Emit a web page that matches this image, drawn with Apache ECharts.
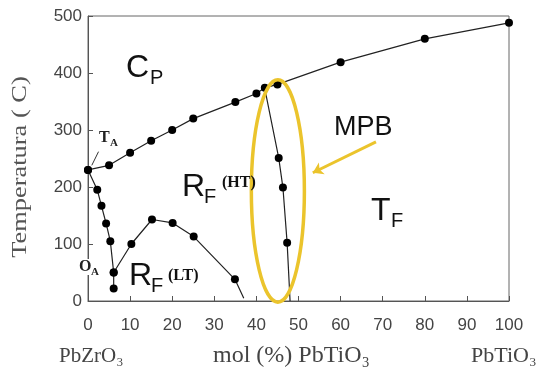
<!DOCTYPE html>
<html>
<head>
<meta charset="utf-8">
<script src="https://cdn.jsdelivr.net/npm/echarts@6/dist/echarts.min.js"></script>
<style>
html,body{margin:0;padding:0;background:#fff;}
#c{width:542px;height:373px;}
</style>
</head>
<body>
<div id="c"></div>
<script>
// ---- data (mol % PbTiO3, temperature °C) ----
var xTicks = [0, 10, 20, 30, 40, 50, 60, 70, 80, 90, 100];
var yTicks = [0, 100, 200, 300, 400, 500];
// cubic paraelectric boundary (Tc line)
var tcX = [0, 5, 10, 15, 20, 25, 35, 40, 42, 45, 60, 80, 100];
var tcT = [230, 238, 260, 281, 300, 320, 349, 364, 374, 380, 419, 460, 488];
// antiferroelectric (A_T) boundary, left steep line
var afX = [0, 2.2, 3.2, 4.3, 5.3, 6.1, 6.1];
var afT = [230, 195, 167, 136, 105, 50, 22];
// R_F(LT) / R_F(HT) boundary
var ltX = [6.1, 10.3, 15.2, 20.1, 25.1, 34.9, 37];
var ltT = [50, 100, 143, 137, 113, 38, 5];
var ltMarker = [1, 1, 1, 1, 1, 1, 0];
// morphotropic phase boundary
var mpbX = [42, 45.3, 46.3, 47.3, 48];
var mpbT = [372, 251, 199, 102, 0];
var mpbMarker = [0, 1, 1, 1, 0];
// T_A leader line
var taLeadX = [0.9, 2.5];
var taLeadT = [238, 262];
// MPB highlight ellipse (centre / half-extent in data units)
var ellCenter = [45.1, 193];
var ellHalf = [6.3, 195];
// MPB arrow (from, to) in data units
var arrowFrom = [68.4, 279];
var arrowTo = [53.4, 225];

function pairs(xs, ts, marks) {
  return xs.map(function (x, i) {
    var d = { value: [x, ts[i]] };
    if (marks && !marks[i]) d.symbol = 'none';
    return d;
  });
}

var chart = echarts.init(document.getElementById('c'), null, { renderer: 'canvas' });
var serif = "'Liberation Serif','DejaVu Serif',serif";
var sans = "'Liberation Sans',Arial,sans-serif";
var yellow = '#EBC42C';
var lineCol = '#222';

var lineSeries = function (data) {
  return {
    type: 'line', data: data, symbol: 'circle', symbolSize: 8,
    itemStyle: { color: '#000' },
    lineStyle: { color: lineCol, width: 1.2 },
    animation: false, silent: true, z: 3
  };
};

function txt(x, y, text, font, fill, extra) {
  var st = { text: text, font: font, fill: fill || '#111', verticalAlign: 'middle' };
  if (extra) for (var k in extra) st[k] = extra[k];
  return { type: 'text', x: x, y: y, z: 100, style: st };
}

var option = {
  animation: false,
  backgroundColor: '#fff',
  grid: { left: 88, right: 33, top: 16, bottom: 72, show: true, borderColor: '#666', borderWidth: 1 },
  xAxis: {
    type: 'value', min: 0, max: 100, interval: 10,
    axisLine: { lineStyle: { color: '#555' } },
    axisTick: { inside: true, length: 5, lineStyle: { color: '#555' } },
    splitLine: { show: false },
    axisLabel: { color: '#444', fontFamily: sans, fontSize: 17, margin: 16,
      formatter: function (v) { return xTicks.indexOf(v) >= 0 ? String(v) : ''; } }
  },
  yAxis: {
    type: 'value', min: 0, max: 500, interval: 100,
    axisLine: { show: true, lineStyle: { color: '#555' } },
    axisTick: { show: true, inside: true, length: 5, lineStyle: { color: '#555' } },
    splitLine: { show: false },
    axisLabel: { color: '#444', fontFamily: sans, fontSize: 17, margin: 6,
      formatter: function (v) { return yTicks.indexOf(v) >= 0 ? String(v) : ''; } }
  },
  series: [
    lineSeries(pairs(tcX, tcT)),
    lineSeries(pairs(afX, afT)),
    lineSeries(pairs(ltX, ltT, ltMarker)),
    lineSeries(pairs(mpbX, mpbT, mpbMarker)),
    {
      type: 'line', data: pairs(taLeadX, taLeadT), symbol: 'none',
      lineStyle: { color: '#333', width: 1 }, silent: true
    },
    {
      type: 'custom', silent: true, z: 5,
      data: [[ellCenter[0], ellCenter[1]]],
      renderItem: function (params, api) {
        var c = api.coord([api.value(0), api.value(1)]);
        var s = api.size(ellHalf);
        return {
          type: 'ellipse',
          shape: { cx: c[0], cy: c[1], rx: s[0], ry: s[1] },
          style: { fill: 'none', stroke: yellow, lineWidth: 3.5 }
        };
      }
    },
    {
      type: 'lines', coordinateSystem: 'cartesian2d', silent: true, z: 5,
      symbol: ['none', 'arrow'], symbolSize: 10,
      lineStyle: { color: yellow, width: 3, opacity: 1, curveness: 0 },
      data: [{ coords: [arrowFrom, arrowTo] }]
    }
  ],
  graphic: [
    { type: 'text', x: 20, y: 167, rotation: Math.PI / 2, scaleX: 1.2, z: 100,
      style: { text: 'Temperatura ( C)', font: '22px ' + serif, fill: '#555', align: 'center', verticalAlign: 'middle' } },

    txt(126, 68, 'C', '32px ' + sans),
    txt(150, 78, 'P', '20px ' + sans),

    txt(182, 187, 'R', '32px ' + sans),
    txt(204, 197, 'F', '20px ' + sans),
    txt(222, 183, '(HT)', 'bold 16px ' + serif),

    txt(371, 211, 'T', '32px ' + sans),
    txt(391, 221, 'F', '20px ' + sans),

    txt(334, 128, 'MPB', '27px ' + sans),

    txt(129, 276, 'R', '32px ' + sans),
    txt(151, 286, 'F', '20px ' + sans),
    txt(168, 276, '(LT)', 'bold 16px ' + serif),

    txt(79, 267, 'O', 'bold 16px ' + serif, '#222', { backgroundColor: '#fff' }),
    txt(91, 272, 'A', 'bold 11px ' + serif, '#222', { backgroundColor: '#fff' }),

    txt(99, 138, 'T', 'bold 16px ' + serif, '#222'),
    txt(110, 143, 'A', 'bold 11px ' + serif, '#222'),

    txt(59, 356, 'PbZrO\u2083', '21px ' + serif, '#444'),
    txt(213, 356, 'mol (%) PbTiO\u2083', '24px ' + serif, '#444'),
    txt(471, 356, 'PbTiO\u2083', '22px ' + serif, '#444')
  ]
};
chart.setOption(option);
</script>
</body>
</html>
